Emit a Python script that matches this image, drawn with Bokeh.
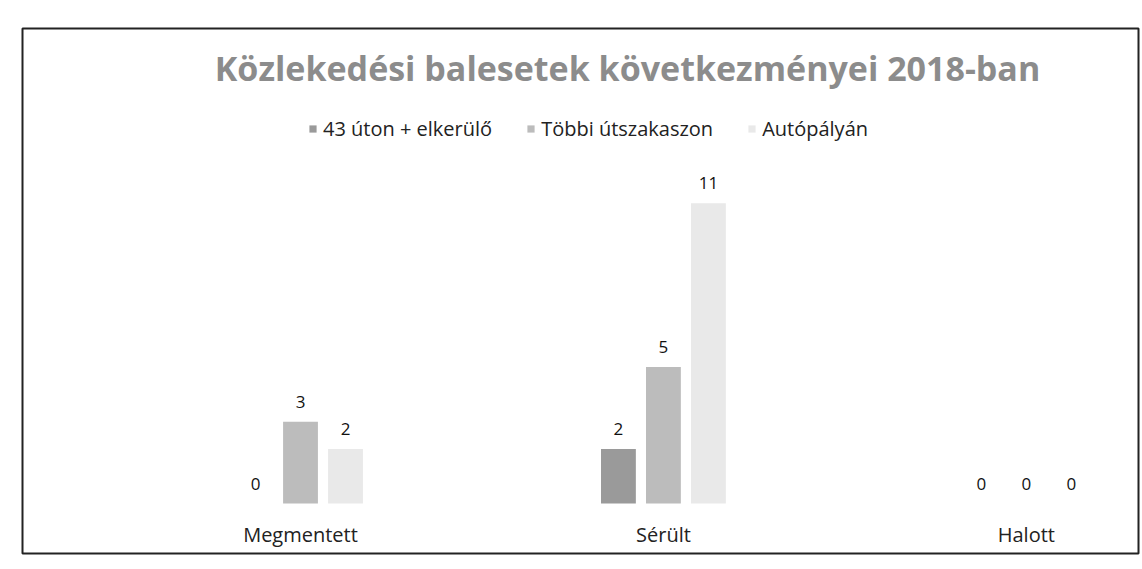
from bokeh.plotting import figure
from bokeh.models import (ColumnDataSource, LabelSet, Label, Range1d, Legend, LegendItem)
from bokeh.core.properties import value
from bokeh.embed import file_html
from bokeh.resources import INLINE

categories = ["Megmentett", "Sérült", "Halott"]
series_names = ["43 úton + elkerülő", "Többi útszakaszon", "Autópályán"]
s1 = [0, 2, 0]
s2 = [3, 5, 0]
s3 = [2, 11, 0]
title_text = "Közlekedési balesetek következményei 2018-ban"
colors = ["#9a9a9a", "#bcbcbc", "#e9e9e9"]
offsets = [-0.124, 0.0, 0.124]

p = figure(width=1140, height=556, output_backend="svg", toolbar_location=None,
           x_range=Range1d(-0.766, 2.309), y_range=Range1d(-1.83, 17.4),
           min_border_left=22, min_border_right=2, min_border_top=28, min_border_bottom=3)
p.outline_line_color = "#222222"
p.outline_line_width = 2
p.grid.visible = False
p.axis.visible = False

xs = list(range(len(categories)))
items = []
for vals, name, col, off in zip([s1, s2, s3], series_names, colors, offsets):
    src = ColumnDataSource(dict(x=[xi + off for xi in xs], top=vals, lab=[str(v) for v in vals]))
    r = p.vbar(x="x", top="top", width=0.096, source=src, fill_color=col, line_color=None)
    items.append(LegendItem(label=name, renderers=[r]))
    p.add_layout(LabelSet(x="x", y="top", text="lab", source=src, text_align="center",
                          text_baseline="middle", y_offset=20, text_font=value("Open Sans"),
                          text_font_size=value("17px"), text_color=value("#111111")))

cat_src = ColumnDataSource(dict(x=xs, y=[0] * len(xs), name=categories))
p.add_layout(LabelSet(x="x", y="y", text="name", source=cat_src, text_align="center",
                      text_baseline="middle", y_offset=-31, text_font=value("Open Sans"),
                      text_font_size=value("20px"), text_color=value("#222222")))

p.add_layout(Label(x=0.901, y=15.97, text=title_text, text_align="center",
                   text_baseline="middle", text_font="Open Sans", text_font_size="34px",
                   text_font_style="bold", text_color="#8c8c8c"))

legend = Legend(items=items, orientation="horizontal", location=(286, 411),
                label_text_font="Open Sans", label_text_font_size="20px",
                label_text_color="#222", glyph_width=9, glyph_height=9,
                label_standoff=6, spacing=34, border_line_color=None,
                background_fill_alpha=0, margin=0, padding=4)
p.add_layout(legend)

open("out.html", "w").write(file_html(p, INLINE))
